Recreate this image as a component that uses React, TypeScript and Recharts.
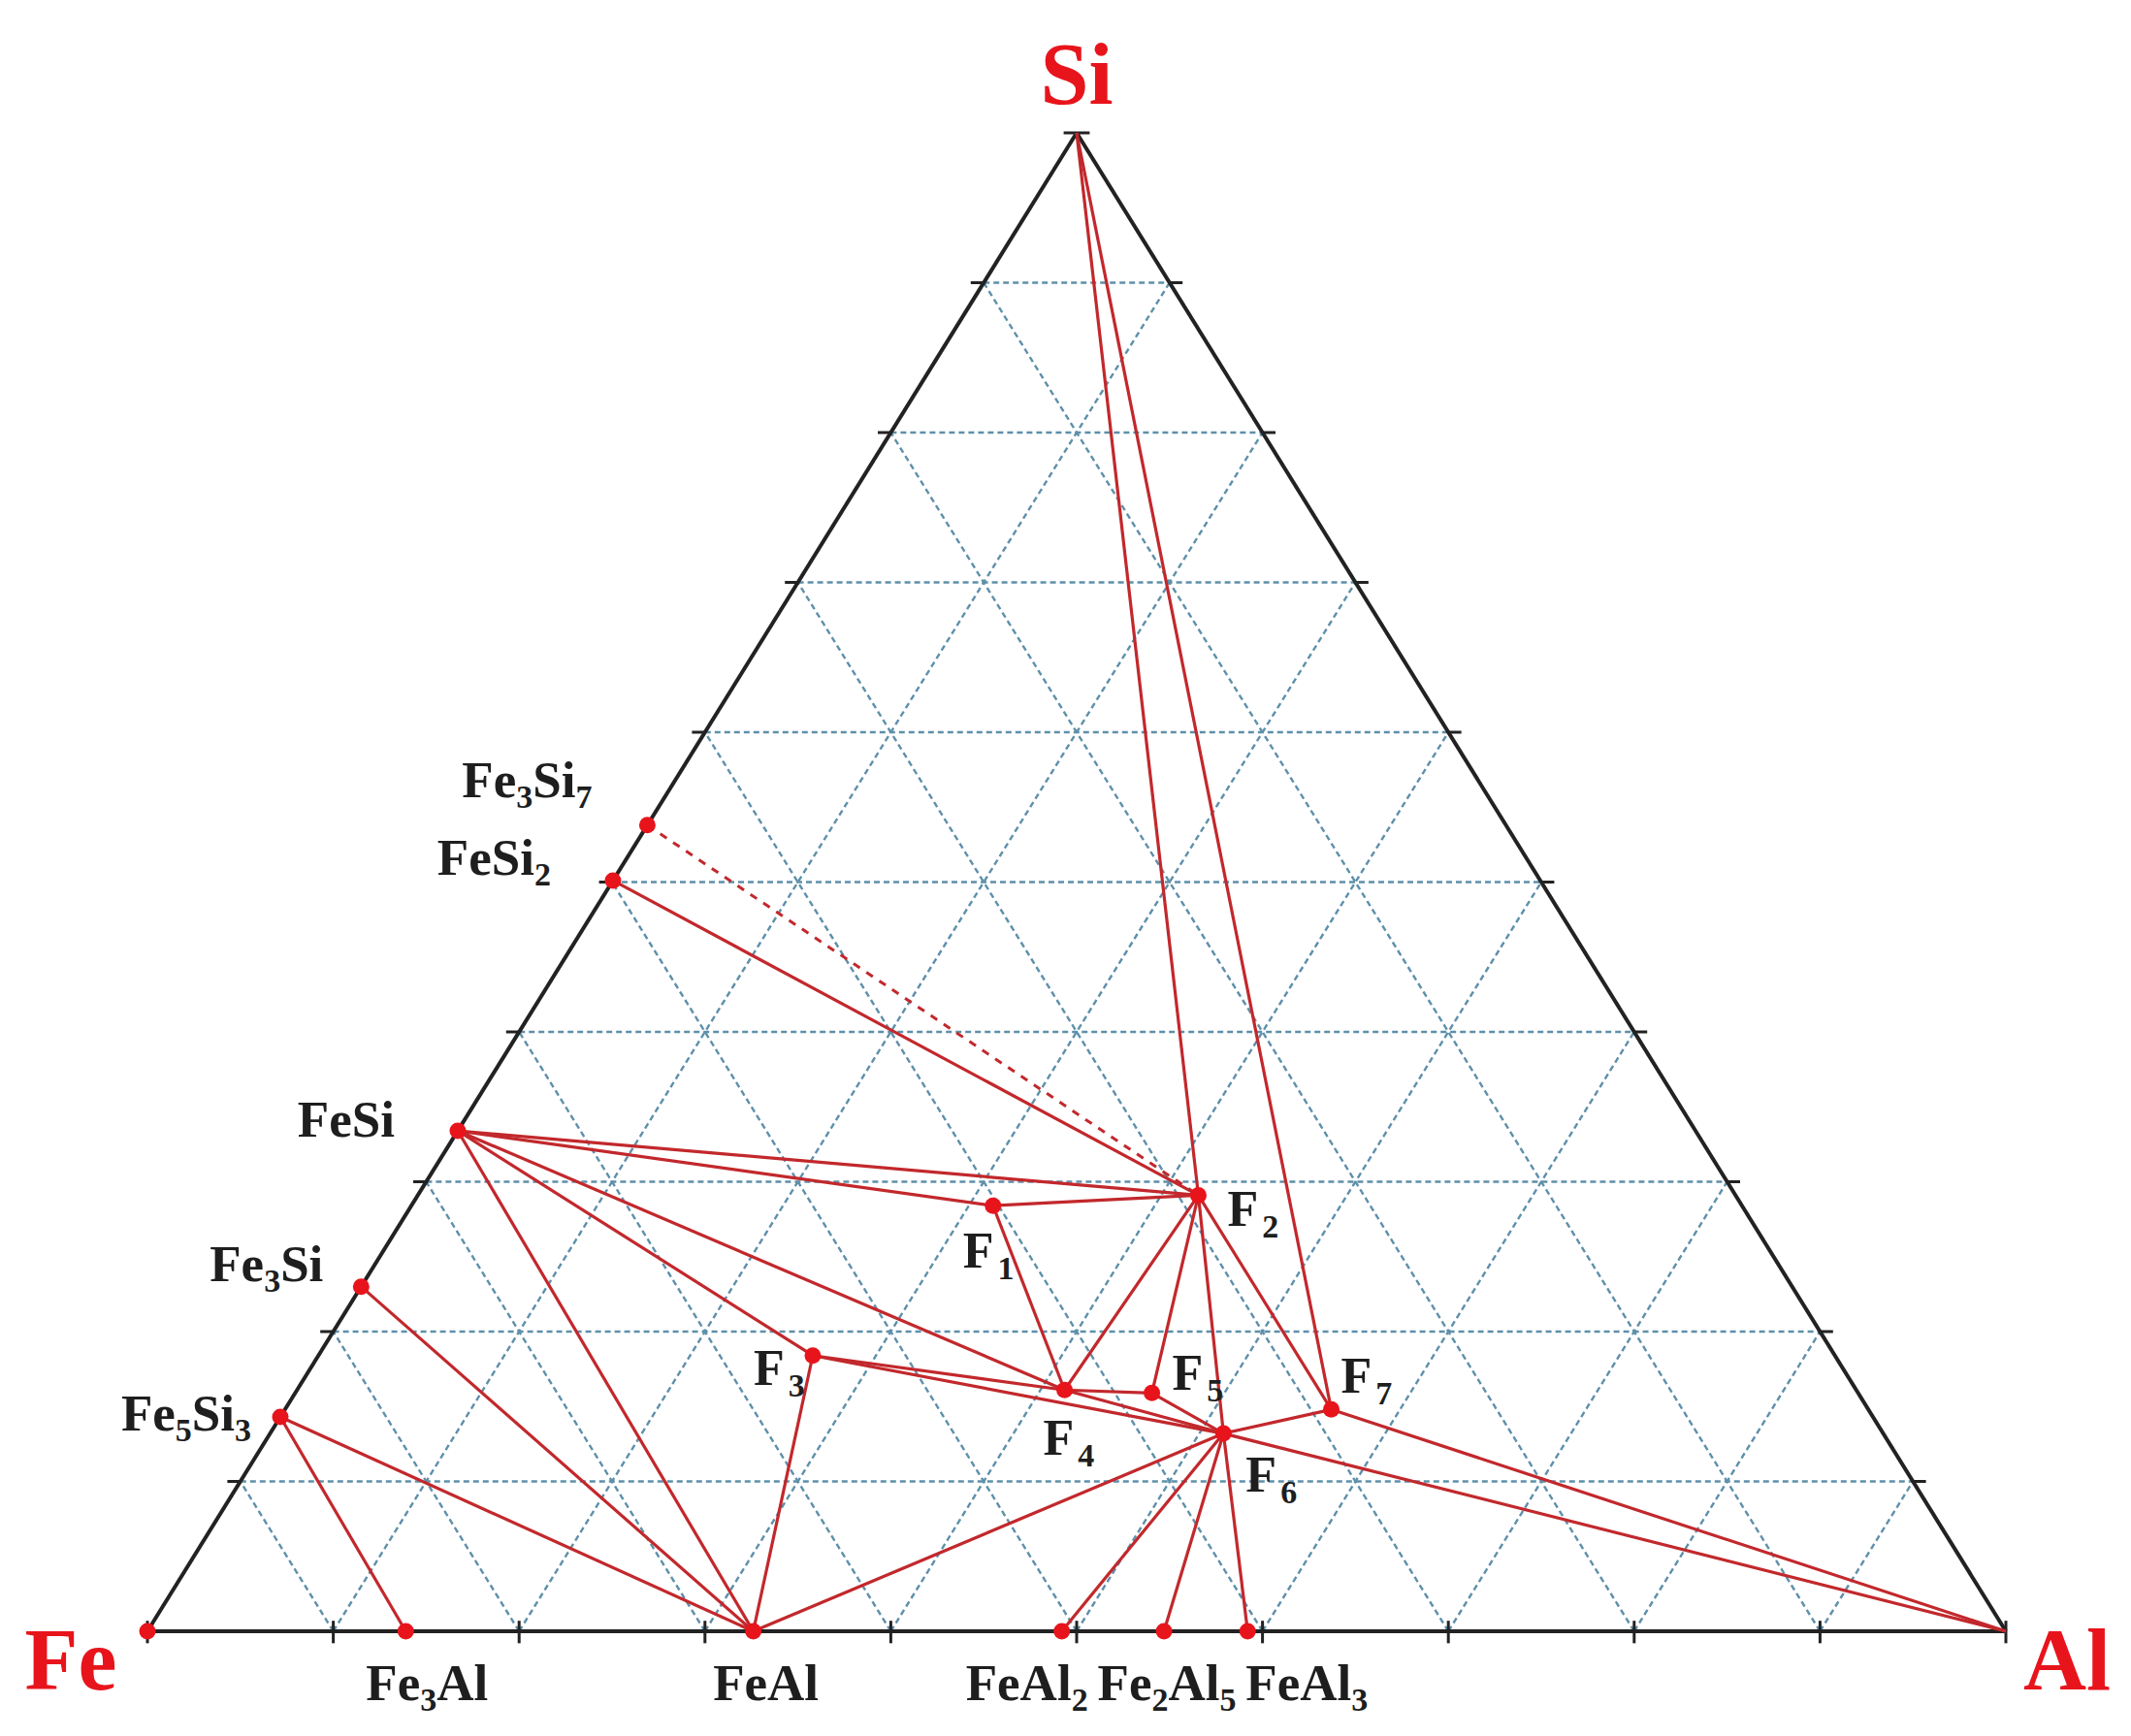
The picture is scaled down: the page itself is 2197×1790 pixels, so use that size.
import * as React from 'react';
import { ScatterChart, Scatter, XAxis, YAxis, ReferenceLine } from 'recharts';

// compositions (wt%): [name, Al, Si], Fe is the balance
const vertices: [string, number, number][] = [
	['Fe', 0, 0],
	['Al', 100, 0],
	['Si', 0, 100],
];

const binaryPhases: [string, number, number][] = [
	['Fe3Al', 13.9, 0],
	['FeAl', 32.6, 0],
	['FeAl2', 49.2, 0],
	['Fe2Al5', 54.7, 0],
	['FeAl3', 59.2, 0],
	['Fe5Si3', 0, 14.3],
	['Fe3Si', 0, 23.0],
	['FeSi', 0, 33.4],
	['FeSi2', 0, 50.1],
	['Fe3Si7', 0, 53.8],
];

const ternaryPhases: [string, number, number][] = [
	['F1', 31.3, 28.4],
	['F2', 42.0, 29.1],
	['F3', 26.6, 18.4],
	['F4', 41.3, 16.1],
	['F5', 46.1, 15.9],
	['F6', 51.3, 13.2],
	['F7', 56.3, 14.8],
];

const tieLines: [string, string][] = [
	['Si', 'F2'], ['Si', 'F7'], ['FeSi2', 'F2'],
	['FeSi', 'F2'], ['FeSi', 'F1'], ['FeSi', 'F4'], ['FeSi', 'F3'], ['FeSi', 'FeAl'],
	['F1', 'F2'], ['F1', 'F4'], ['F2', 'F4'], ['F2', 'F5'], ['F2', 'F6'], ['F2', 'F7'],
	['F3', 'F4'], ['F3', 'F6'], ['F3', 'FeAl'], ['F4', 'F5'], ['F4', 'F6'], ['F5', 'F6'],
	['F6', 'F7'], ['F6', 'Al'], ['F7', 'Al'], ['F6', 'FeAl'], ['F6', 'FeAl2'],
	['F6', 'Fe2Al5'], ['F6', 'FeAl3'], ['Fe3Si', 'FeAl'], ['Fe5Si3', 'FeAl'], ['Fe5Si3', 'Fe3Al'],
];

const dashedTieLines: [string, string][] = [['Fe3Si7', 'F2']];

const gridLevels = [10, 20, 30, 40, 50, 60, 70, 80, 90];
const edgeTicks = [0, 10, 20, 30, 40, 50, 60, 70, 80, 90, 100];

// label placement relative to the point (px) — layout only
const labelPos: Record<string, { dx: number; dy: number; anchor: string }> = {
	Fe: { dx: -79, dy: 60, anchor: 'middle' },
	Al: { dx: 63, dy: 60, anchor: 'middle' },
	Si: { dx: 0, dy: -30, anchor: 'middle' },
	Fe3Si7: { dx: -57, dy: -29, anchor: 'end' },
	FeSi2: { dx: -64, dy: -6, anchor: 'end' },
	FeSi: { dx: -65, dy: 6, anchor: 'end' },
	Fe3Si: { dx: -39, dy: -6, anchor: 'end' },
	Fe5Si3: { dx: -30, dy: 14, anchor: 'end' },
	Fe3Al: { dx: 22, dy: 71, anchor: 'middle' },
	FeAl: { dx: 13, dy: 71, anchor: 'middle' },
	FeAl2: { dx: -36, dy: 71, anchor: 'middle' },
	Fe2Al5: { dx: 3, dy: 71, anchor: 'middle' },
	FeAl3: { dx: 61, dy: 71, anchor: 'middle' },
	F1: { dx: -31, dy: 64, anchor: 'start' },
	F2: { dx: 30, dy: 32, anchor: 'start' },
	F3: { dx: -61, dy: 30, anchor: 'start' },
	F4: { dx: -22, dy: 67, anchor: 'start' },
	F5: { dx: 21, dy: -3, anchor: 'start' },
	F6: { dx: 23, dy: 60, anchor: 'start' },
	F7: { dx: 10, dy: -17, anchor: 'start' },
};

const toXY = (al: number, si: number) => ({ x: (al + si / 2) / 100, y: si / 100 });

const allPhases = [...vertices, ...binaryPhases, ...ternaryPhases];
const pos: Record<string, { x: number; y: number }> = {};
allPhases.forEach(([n, al, si]) => (pos[n] = toXY(al, si)));

const dotData = [['Fe', 0, 0] as [string, number, number], ...binaryPhases, ...ternaryPhases].map(
	([name, al, si]) => ({ name, ...toXY(al, si) })
);
const labelData = allPhases.map(([name, al, si]) => ({ name, ...toXY(al, si) }));

const FONT = '"Liberation Serif", "Times New Roman", serif';
const RED_LINE = '#c2282c';

function Formula({ text, size, sub, shift }: { text: string; size: number; sub: number; shift: number }) {
	const parts = text.match(/[A-Za-z]+|\d+/g) || [];
	const isF = /^F\d$/.test(text);
	let down = false;
	return (
		<>
			{parts.map((p, i) => {
				if (/\d/.test(p)) {
					down = true;
					return (
						<tspan key={i} fontSize={sub} dy={shift} dx={isF ? 4 : 0}>
							{p}
						</tspan>
					);
				}
				const dy = down ? -shift : 0;
				down = false;
				return (
					<tspan key={i} fontSize={size} dy={dy}>
						{p}
					</tspan>
				);
			})}
		</>
	);
}

const renderLabel = (props: any) => {
	const { cx, cy, payload } = props;
	const name: string = payload.name;
	const lp = labelPos[name];
	const isElement = name === 'Fe' || name === 'Al' || name === 'Si';
	if (isElement) {
		return (
			<text x={cx + lp.dx} y={cy + lp.dy} textAnchor={lp.anchor as any} fontFamily={FONT} fontWeight="bold" fontSize={90} fill="#e8141c">
				{name}
			</text>
		);
	}
	const isF = /^F\d$/.test(name);
	return (
		<text x={cx + lp.dx} y={cy + lp.dy} textAnchor={lp.anchor as any} fontFamily={FONT} fontWeight="bold" fill="#1e1e1e">
			<Formula text={name} size={isF ? 52 : 53} sub={34} shift={isF ? 12 : 11} />
		</text>
	);
};

const renderDot = (props: any) => <circle cx={props.cx} cy={props.cy} r={8.5} fill="#e8141c" />;

export default function App() {
	const gridSegs: { x: number; y: number }[][] = [];
	gridLevels.forEach(k => {
		const f = k / 100;
		gridSegs.push([{ x: f / 2, y: f }, { x: 1 - f / 2, y: f }]);
		gridSegs.push([{ x: f, y: 0 }, { x: f + (1 - f) / 2, y: 1 - f }]);
		gridSegs.push([{ x: 1 - f, y: 0 }, { x: (1 - f) / 2, y: 1 - f }]);
	});
	const tickSegs: { x: number; y: number }[][] = [];
	edgeTicks.forEach(k => {
		const f = k / 100;
		tickSegs.push([{ x: f, y: -0.008 }, { x: f, y: 0.007 }]);
		if (k > 0) {
			tickSegs.push([{ x: f / 2 - 0.007, y: f }, { x: f / 2, y: f }]);
			tickSegs.push([{ x: 1 - f / 2, y: f }, { x: 1 - f / 2 + 0.007, y: f }]);
		}
	});
	const edges = [
		[pos.Fe, pos.Al],
		[pos.Al, pos.Si],
		[pos.Si, pos.Fe],
	];

	return (
		<ScatterChart width={2180} height={1774} margin={{ top: 129, right: 120, bottom: 100, left: 144 }}>
			<XAxis type="number" dataKey="x" domain={[0, 1]} hide />
			<YAxis type="number" dataKey="y" domain={[0, 1]} hide />
			{gridSegs.map((s, i) => (
				<ReferenceLine key={'g' + i} segment={s} stroke="#5e90aa" strokeWidth={2.4} strokeDasharray="6 4" ifOverflow="visible" />
			))}
			{edges.map((s, i) => (
				<ReferenceLine key={'e' + i} segment={s} stroke="#222" strokeWidth={4} ifOverflow="visible" />
			))}
			{tickSegs.map((s, i) => (
				<ReferenceLine key={'t' + i} segment={s} stroke="#222" strokeWidth={3} ifOverflow="visible" />
			))}
			{tieLines.map(([a, b], i) => (
				<ReferenceLine key={'l' + i} segment={[pos[a], pos[b]]} stroke={RED_LINE} strokeWidth={3.2} ifOverflow="visible" />
			))}
			{dashedTieLines.map(([a, b], i) => (
				<ReferenceLine key={'d' + i} segment={[pos[a], pos[b]]} stroke={RED_LINE} strokeWidth={3} strokeDasharray="8 8" ifOverflow="visible" />
			))}
			<Scatter data={dotData} shape={renderDot} isAnimationActive={false} />
			<Scatter data={labelData} shape={renderLabel} isAnimationActive={false} />
		</ScatterChart>
	);
}
